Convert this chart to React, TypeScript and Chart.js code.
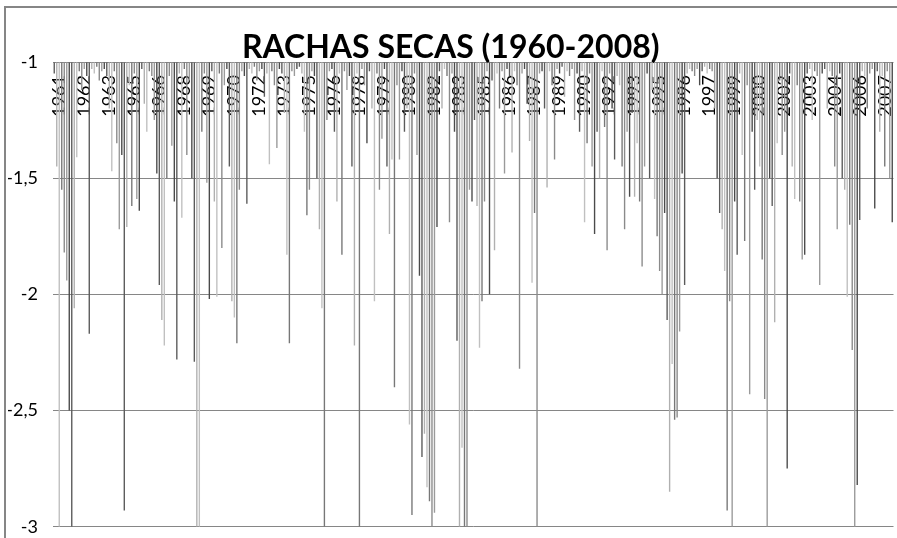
import React, { useEffect, useRef } from 'react';
import { Chart, registerables } from 'chart.js';

Chart.register(...registerables);

const chartTitle = 'RACHAS SECAS (1960-2008)';

const yearLabels = [
  '1961', '1962', '1963', '1965', '1966', '1968', '1969', '1970', '1972', '1973',
  '1975', '1976', '1978', '1979', '1980', '1982', '1983', '1985', '1986', '1987',
  '1989', '1990', '1992', '1993', '1995', '1996', '1997', '1999', '2000', '2002',
  '2003', '2004', '2006', '2007',
];
const barsPerLabel = 10;
const firstLabelIndex = 2;

const values = [
  -1.05, -1.45, -3.0, -1.55, -1.82, -1.94, -2.5, -3.0, -2.06, -1.41, -1.04, -1.12, -1.03, -1.06, -2.17, -1.03, -1.05, -1.02, -1.08, -1.04,
  -1.03, -1.06, -1.2, -1.47, -1.04, -1.35, -1.72, -1.4, -2.93, -1.71, -1.1, -1.62, -1.05, -1.59, -1.64, -1.03, -1.18, -1.3, -1.04, -1.06,
  -1.25, -1.48, -1.96, -2.11, -2.22, -1.5, -1.06, -1.36, -1.6, -2.28, -1.05, -1.67, -1.03, -1.4, -1.08, -1.5, -2.29, -3.0, -3.0, -1.3,
  -1.05, -1.52, -2.02, -1.04, -1.6, -2.01, -1.05, -1.8, -1.1, -1.03, -1.45, -2.03, -2.1, -2.21, -1.55, -1.04, -1.06, -1.61, -1.03, -1.05,
  -1.02, -1.08, -1.04, -1.03, -1.15, -1.05, -1.44, -1.04, -1.1, -1.37, -1.03, -1.05, -1.22, -1.83, -2.21, -1.04, -1.06, -1.03, -1.02, -1.05,
  -1.3, -1.66, -1.55, -1.04, -1.06, -1.5, -1.72, -2.06, -3.0, -1.25, -1.04, -1.03, -1.3, -1.6, -1.05, -1.83, -1.04, -1.12, -1.06, -1.45,
  -2.22, -1.05, -3.0, -1.03, -1.1, -1.35, -1.04, -1.2, -2.03, -1.05, -1.55, -1.33, -1.03, -1.45, -1.74, -1.42, -2.4, -1.1, -1.42, -1.04,
  -1.3, -1.2, -2.56, -2.95, -1.05, -1.4, -1.92, -2.7, -2.6, -2.83, -2.89, -3.0, -2.94, -1.71, -1.04, -1.2, -1.03, -1.06, -1.69, -1.05,
  -1.3, -2.2, -3.0, -2.66, -3.0, -3.0, -1.55, -1.6, -1.25, -1.62, -2.23, -2.03, -1.6, -1.04, -2.0, -1.08, -1.81, -1.05, -1.2, -1.04,
  -1.48, -1.03, -1.06, -1.39, -1.04, -1.1, -2.32, -1.05, -1.03, -1.18, -1.34, -1.95, -1.65, -3.0, -1.05, -1.04, -1.2, -1.54, -1.04, -1.1,
  -1.42, -1.03, -1.05, -1.02, -1.15, -1.04, -1.06, -1.03, -1.25, -1.05, -1.3, -1.04, -1.69, -1.35, -1.05, -1.45, -1.74, -1.3, -1.5, -1.04,
  -1.28, -1.81, -1.05, -1.2, -1.42, -1.06, -1.1, -1.45, -1.72, -1.3, -1.58, -1.22, -1.58, -1.35, -1.6, -1.88, -1.45, -1.05, -1.5, -1.12,
  -1.59, -1.75, -1.9, -2.0, -1.65, -2.11, -2.85, -2.3, -2.54, -2.53, -2.16, -1.48, -1.96, -1.05, -1.03, -1.04, -1.06, -1.03, -1.1, -1.04,
  -1.02, -1.05, -1.03, -1.04, -1.2, -1.5, -1.65, -1.72, -1.9, -2.93, -2.03, -3.0, -1.6, -1.83, -1.05, -1.4, -1.77, -1.1, -2.43, -1.3,
  -1.55, -1.25, -1.45, -1.85, -2.45, -3.0, -1.5, -1.62, -2.12, -1.35, -1.08, -1.4, -1.3, -2.75, -1.05, -1.45, -1.59, -1.1, -1.6, -1.85,
  -1.83, -1.05, -1.03, -1.25, -1.04, -1.06, -1.96, -1.05, -1.03, -1.2, -1.04, -1.06, -1.45, -1.72, -1.05, -1.5, -1.55, -2.01, -1.7, -2.24,
  -3.0, -2.82, -1.68, -1.04, -1.06, -1.2, -1.05, -1.03, -1.63, -1.04, -1.3, -1.06, -1.45, -1.04, -1.5, -1.69,
];

const yTickValues = [-3, -2.5, -2, -1.5, -1];
const yTickLabels = ['-3', '-2,5', '-2', '-1,5', '-1'];

const categories = values.map((_, i) => {
  const k = i - firstLabelIndex;
  if (k >= 0 && k % barsPerLabel === 0) {
    const label = yearLabels[k / barsPerLabel];
    return label !== undefined ? label : '';
  }
  return '';
});

const barPalette = ['#5a5a5a', '#9a9a9a', '#777777', '#b0b0b0', '#4a4a4a', '#8a8a8a', '#c0c0c0'];

export default function App() {
  const canvasRef = useRef<HTMLCanvasElement | null>(null);

  useEffect(() => {
    const canvas = canvasRef.current;
    if (!canvas) return;
    const chart = new Chart(canvas, {
      type: 'bar',
      data: {
        labels: categories,
        datasets: [
          {
            label: chartTitle,
            data: values,
            base: -1,
            backgroundColor: (ctx: any) => barPalette[(ctx.dataIndex * 3) % barPalette.length],
            borderWidth: 0,
            barPercentage: 0.55,
            categoryPercentage: 1,
          } as any,
        ],
      },
      options: {
        responsive: false,
        animation: false,
        events: [],
        layout: { padding: { left: 8, right: 3.5, top: 0, bottom: 11.3 } },
        plugins: {
          legend: { display: false },
          tooltip: { enabled: false },
          title: {
            display: true,
            text: chartTitle,
            color: '#000000',
            font: { family: 'Lato', size: 32, weight: 'bold', lineHeight: 1.2 },
            padding: { top: 28.8, bottom: -5.2 },
          },
        },
        scales: {
          x: {
            type: 'category',
            position: { y: -1 } as any,
            offset: true,
            grid: { display: false, drawTicks: false },
            border: { display: false },
            ticks: {
              autoSkip: false,
              minRotation: 90,
              maxRotation: 90,
              padding: 13,
              color: '#000000',
              font: { family: 'Lato', size: 18, lineHeight: 1.2 },
            },
            afterFit: (scale: any) => {
              scale.paddingLeft = 0;
              scale.paddingRight = 0;
              scale.paddingTop = 0;
              scale.paddingBottom = 0;
            },
          },
          y: {
            type: 'linear',
            min: -3,
            max: -1,
            grid: { color: '#868686', lineWidth: 1, drawTicks: false },
            border: { display: false },
            afterFit: (scale: any) => {
              scale.width = 45;
              scale.paddingTop = 0;
              scale.paddingBottom = 0;
            },
            afterBuildTicks: (scale: any) => {
              scale.ticks = yTickValues.map((v) => ({ value: v }));
            },
            ticks: {
              padding: 15,
              color: '#000000',
              font: { family: 'Lato', size: 18, lineHeight: 1.2 },
              callback: (v: any) => {
                const idx = yTickValues.findIndex((t) => Math.abs(t - Number(v)) < 1e-9);
                return idx >= 0 ? yTickLabels[idx] : '';
              },
            },
          },
        },
      },
    });
    return () => chart.destroy();
  }, []);

  return (
    <div style={{ position: 'fixed', left: 0, top: 0, width: 897, height: 538, background: '#ffffff', overflow: 'hidden' }}>
      <div
        style={{
          position: 'absolute',
          left: 4,
          top: 6,
          width: 920,
          height: 560,
          borderLeft: '2px solid #868686',
          borderTop: '2px solid #868686',
          boxSizing: 'border-box',
        }}
      />
      <canvas ref={canvasRef} width={897} height={538} style={{ position: 'absolute', left: 0, top: 0, width: 897, height: 538 }} />
    </div>
  );
}
